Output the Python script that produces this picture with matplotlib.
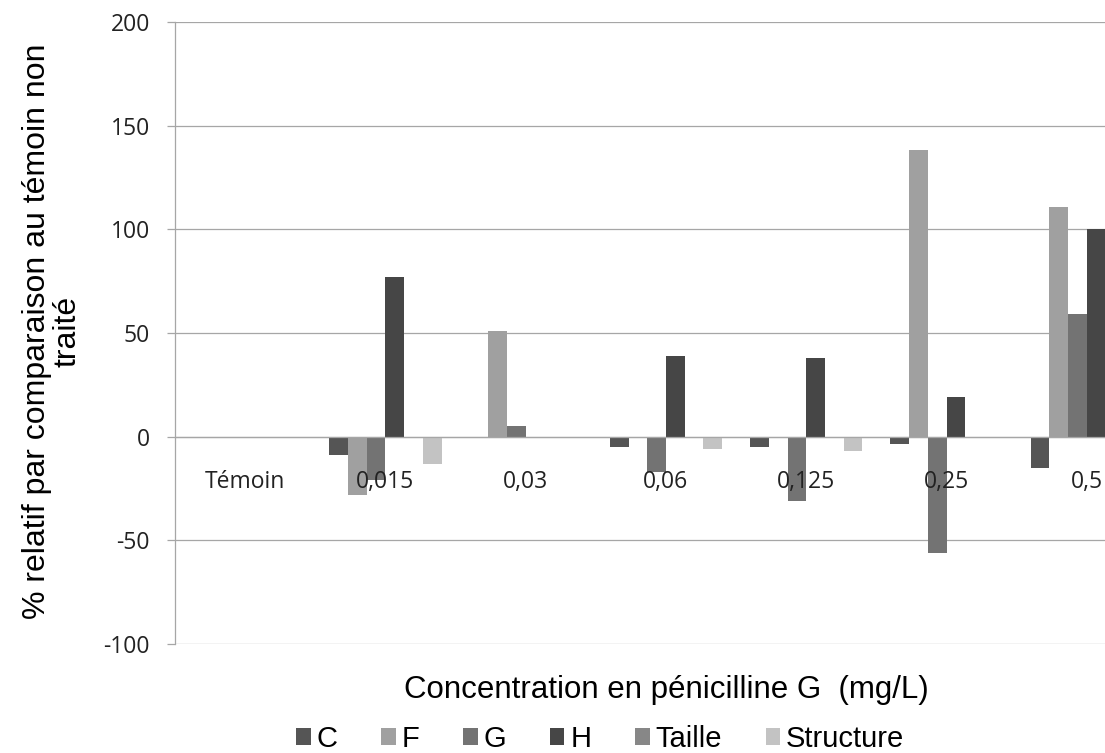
import numpy as np
import matplotlib
matplotlib.use('Agg')
import matplotlib.pyplot as plt

plt.rcParams['axes.unicode_minus'] = False

# categories (concentration) and series values (% relative to untreated control)
categories = ['Témoin', '0,015', '0,03', '0,06', '0,125', '0,25', '0,5']
series_names = ['C', 'F', 'G', 'H', 'Taille', 'Structure']
C = [0, -9, 0, -5, -5, -3.5, -15]
F = [0, -28, 51, 0, 0, 138.5, 111]
G = [0, -21, 5, -17, -31, -56, 59]
H = [0, 77, 0, 39, 38, 19, 100]
Taille = [0, 0, 0, 0, 0, 0, 0]
Structure = [0, -13, 0, -6, -7, 0, 0]
y_ticks = [-100, -50, 0, 50, 100, 150, 200]

colors = ['#555555', '#a0a0a0', '#737373', '#464646', '#878787', '#c3c3c3']
all_series = [C, F, G, H, Taille, Structure]

fig = plt.figure(figsize=(11.05, 7.53), dpi=100)
# axes runs off the right edge like the cropped original
ax = fig.add_axes([175 / 1105, 1 - 644 / 753, 982 / 1105, (644 - 22) / 753])

# horizontal gridlines behind the bars
for yv in y_ticks:
    ax.axhline(yv, color='#a6a6a6', linewidth=0.9, zorder=0.5)

x = np.arange(len(categories))
bar_w = 0.8 / len(series_names)
for i, (name, vals, col) in enumerate(zip(series_names, all_series, colors)):
    offs = (i - (len(series_names) - 1) / 2) * bar_w
    ax.bar(x + offs, vals, width=bar_w, color=col, label=name, zorder=1, linewidth=0)

ax.set_xlim(-0.5, len(categories) - 0.5)
ax.set_ylim(-100, 200)
ax.set_yticks(y_ticks)

for s in ['top', 'right']:
    ax.spines[s].set_visible(False)
ax.spines['left'].set_color('#a6a6a6')
ax.spines['left'].set_linewidth(0.9)
ax.spines['bottom'].set_position(('data', 0))
ax.spines['bottom'].set_color('#a6a6a6')
ax.spines['bottom'].set_linewidth(0.9)

ax.set_xticks(x)
ax.set_xticklabels(categories, fontfamily='Open Sans', fontsize=16.5, color='#222222')
ax.tick_params(axis='x', length=0, pad=24)
ax.tick_params(axis='y', length=6, width=0.9, color='#a6a6a6', pad=12,
               labelsize=16.5, labelcolor='#222222')
for lab in ax.get_yticklabels():
    lab.set_fontfamily('Open Sans')

fig.text(666 / 1105, 1 - 690 / 753, 'Concentration en pénicilline G  (mg/L)',
         ha='center', va='center', fontsize=22.5, family='Liberation Sans')
fig.text(52 / 1105, 1 - 331 / 753, '% relatif par comparaison au témoin non\ntraité',
         ha='center', va='center', rotation=90, fontsize=23, family='Liberation Sans',
         linespacing=1.0)

leg = fig.legend(loc='center left', bbox_to_anchor=(296 / 1105, 1 - 739 / 753),
                 ncol=6, frameon=False, prop={'family': 'Liberation Sans', 'size': 21},
                 handlelength=0.5, handleheight=0.5, handletextpad=0.2,
                 columnspacing=1.5, borderpad=0, borderaxespad=0)

fig.savefig('out.png', dpi=100)
